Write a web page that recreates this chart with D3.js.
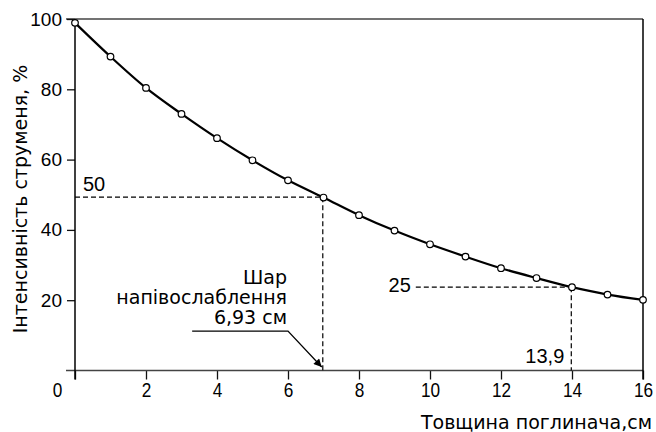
<!DOCTYPE html>
<html><head><meta charset="utf-8">
<script src="https://cdn.jsdelivr.net/npm/d3@7/dist/d3.min.js"></script>
<style>body{margin:0;background:#fff}svg{display:block}</style>
</head><body>
<svg id="c" width="656" height="432"></svg>
<script>
// ---- data ----
const thickness = [0,1,2,3,4,5,6,7,8,9,10,11,12,13,14,15,16];
const intensity = [98.9,89.3,80.4,73.0,66.1,59.8,54.1,49.2,44.2,39.8,35.9,32.4,29.1,26.3,23.7,21.6,20.1];
const xTicks = [0,2,4,6,8,10,12,14,16];
const yTicks = [20,40,60,80,100];
const xTitle = "Товщина поглинача,см";
const yTitle = "Інтенсивність струменя, %";
const guideX = [6.98, 13.98];
const guideY = [49.3, 23.7];
const guideYLabels = ["50", "25"];
const guideXLabel = "13,9";
const noteLines = ["Шар", "напівослаблення", "6,93 см"];

// ---- layout ----
const svg = d3.select("#c");
const x = d3.scaleLinear().domain([0,16]).range([75, 643]);
const y = d3.scaleLinear().domain([0,100]).range([370.5, 19]);
const sans = "'Liberation Sans', Arial, sans-serif";
const dv = "'DejaVu Sans', sans-serif";

// frame top line
svg.append("line").attr("x1", 66).attr("x2", x(16)).attr("y1", y(100)).attr("y2", y(100))
  .attr("stroke", "#444").attr("stroke-width", 1.4);
// x axis
const gx = svg.append("g").attr("transform", `translate(0,${y(0)})`)
  .call(d3.axisBottom(x).tickValues(xTicks).tickSize(9).tickPadding(3).tickFormat(d => d));
gx.select(".domain").remove();
gx.selectAll(".tick line").attr("stroke", "#111").attr("stroke-width", 1.3);
gx.selectAll(".tick text").attr("font-family", sans).attr("font-size", 21).attr("fill", "#000")
  .attr("transform", "scale(0.82,1)")
  .attr("x", d => d === 0 ? -22 : 0);
svg.append("line").attr("x1", 66).attr("x2", x(16)).attr("y1", y(0)).attr("y2", y(0))
  .attr("stroke", "#444").attr("stroke-width", 1.4);
// y axis
const gy = svg.append("g").attr("transform", `translate(${x(0)},0)`)
  .call(d3.axisLeft(y).tickValues(yTicks).tickSize(8).tickPadding(5));
gy.select(".domain").remove();
gy.selectAll(".tick line").attr("stroke", "#111").attr("stroke-width", 1.3);
gy.selectAll(".tick text").attr("font-family", sans).attr("font-size", 19).attr("fill", "#000");
svg.append("line").attr("x1", x(0)).attr("x2", x(0)).attr("y1", y(100)).attr("y2", y(0) + 9)
  .attr("stroke", "#000").attr("stroke-width", 1.5);
svg.append("line").attr("x1", x(16)).attr("x2", x(16)).attr("y1", y(100)).attr("y2", y(0) + 9)
  .attr("stroke", "#000").attr("stroke-width", 1.5);

// guide lines
const dash = "5,3";
svg.append("line").attr("x1", x(0)).attr("x2", x(guideX[0])).attr("y1", y(guideY[0])).attr("y2", y(guideY[0]))
  .attr("stroke", "#000").attr("stroke-width", 1.2).attr("stroke-dasharray", dash);
svg.append("line").attr("x1", x(guideX[0])).attr("x2", x(guideX[0])).attr("y1", y(guideY[0])).attr("y2", y(0))
  .attr("stroke", "#000").attr("stroke-width", 1.2).attr("stroke-dasharray", dash);
svg.append("line").attr("x1", x(9.6)).attr("x2", x(guideX[1])).attr("y1", y(guideY[1])).attr("y2", y(guideY[1]))
  .attr("stroke", "#000").attr("stroke-width", 1.2).attr("stroke-dasharray", dash);
svg.append("line").attr("x1", x(guideX[1])).attr("x2", x(guideX[1])).attr("y1", y(guideY[1])).attr("y2", y(0))
  .attr("stroke", "#000").attr("stroke-width", 1.2).attr("stroke-dasharray", dash);
svg.append("text").attr("x", x(0) + 8).attr("y", y(guideY[0]) - 6)
  .attr("font-family", sans).attr("font-size", 20).text(guideYLabels[0]);
svg.append("text").attr("x", x(9.6) - 5).attr("y", y(guideY[1]) + 5).attr("text-anchor", "end")
  .attr("font-family", sans).attr("font-size", 20).text(guideYLabels[1]);
svg.append("text").attr("x", x(guideX[1]) - 7).attr("y", y(0) - 7.5).attr("text-anchor", "end")
  .attr("font-family", sans).attr("font-size", 20).text(guideXLabel);

// annotation
svg.append("g").selectAll("text").data(noteLines).join("text")
  .attr("x", x(6.0) - 1).attr("y", (d, i) => 283.5 + i * 20).attr("text-anchor", "end")
  .attr("font-family", dv).attr("font-size", 19).text(d => d);
svg.append("defs").append("marker").attr("id", "ah").attr("viewBox", "0 0 10 10")
  .attr("refX", 10).attr("refY", 5).attr("markerWidth", 10).attr("markerHeight", 8)
  .attr("markerUnits", "userSpaceOnUse").attr("orient", "auto")
  .append("path").attr("d", "M0,0L10,5L0,10z").attr("fill", "#000");
const arrowPts = [[3.3, 11.2], [6.0, 11.2], [6.95, 1.0]];
svg.append("path").attr("d", d3.line().x(d => x(d[0])).y(d => y(d[1]))(arrowPts))
  .attr("fill", "none").attr("stroke", "#000").attr("stroke-width", 1.3).attr("marker-end", "url(#ah)");

// curve + points
const pts = thickness.map((t, i) => [t, intensity[i]]);
svg.append("path").attr("d", d3.line().curve(d3.curveMonotoneX).x(d => x(d[0])).y(d => y(d[1]))(pts))
  .attr("fill", "none").attr("stroke", "#000").attr("stroke-width", 2.2);
svg.append("g").selectAll("circle").data(pts).join("circle")
  .attr("cx", d => x(d[0])).attr("cy", d => y(d[1])).attr("r", 3.3)
  .attr("fill", "#fff").attr("stroke", "#000").attr("stroke-width", 1.2);

// titles
svg.append("text").attr("x", 652).attr("y", 429).attr("text-anchor", "end")
  .attr("font-family", dv).attr("font-size", 19).text(xTitle);
svg.append("text").attr("transform", "translate(27,199) rotate(-90)").attr("text-anchor", "middle")
  .attr("font-family", dv).attr("font-size", 19).text(yTitle);
</script>
</body></html>
